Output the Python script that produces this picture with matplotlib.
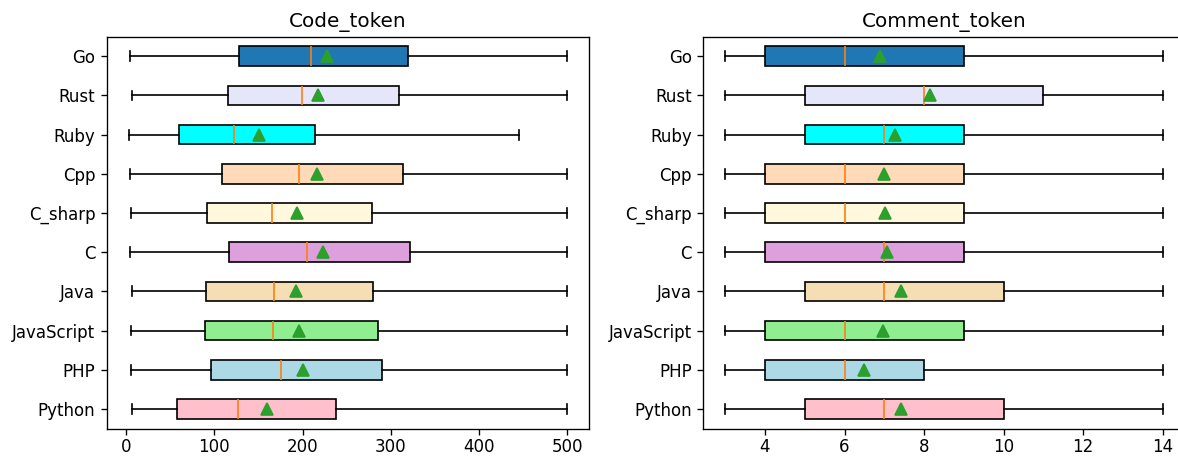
import matplotlib
matplotlib.use("Agg")
import matplotlib.pyplot as plt

languages = ["Python", "PHP", "JavaScript", "Java", "C", "C_sharp", "Cpp", "Ruby", "Rust", "Go"]
box_colors = ["pink", "lightblue", "lightgreen", "wheat", "plum", "cornsilk",
              "peachpuff", "cyan", "lavender", "#1f77b4"]

# Code_token statistics
code_whislo = [6, 5, 5, 6, 4, 5, 4, 3, 6, 4]
code_q1 = [58, 96, 89, 90, 116, 92, 109, 60, 115, 128]
code_med = [127, 176, 166, 168, 205, 165, 196, 122, 199, 209]
code_mean = [160, 201, 196, 193, 223, 194, 216, 151, 218, 228]
code_q3 = [238, 290, 286, 280, 322, 279, 314, 214, 309, 319]
code_whishi = [500, 500, 500, 500, 500, 500, 500, 445, 500, 500]

# Comment_token statistics
com_whislo = [3, 3, 3, 3, 3, 3, 3, 3, 3, 3]
com_q1 = [5, 4, 4, 5, 4, 4, 4, 5, 5, 4]
com_med = [7, 6, 6, 7, 7, 6, 6, 7, 8, 6]
com_mean = [7.41, 6.48, 6.97, 7.42, 7.07, 7.02, 7.0, 7.27, 8.15, 6.9]
com_q3 = [10, 8, 9, 10, 9, 9, 9, 9, 11, 9]
com_whishi = [14, 14, 14, 14, 14, 14, 14, 14, 14, 14]


def make_stats(lo, q1, med, mean, q3, hi):
    return [dict(whislo=lo[i], q1=q1[i], med=med[i], mean=mean[i], q3=q3[i],
                 whishi=hi[i], fliers=[], label=languages[i])
            for i in range(len(languages))]


fig = plt.figure(figsize=(1178 / 120, 456 / 120), dpi=120)
ax1 = fig.add_axes([107 / 1178, 1 - 428.5 / 456, (589 - 107) / 1178, (428.5 - 36.7) / 456])
ax2 = fig.add_axes([703.3 / 1178, 1 - 428.5 / 456, (1184.6 - 703.3) / 1178, (428.5 - 36.7) / 456])

panels = [
    (ax1, make_stats(code_whislo, code_q1, code_med, code_mean, code_q3, code_whishi), "Code_token"),
    (ax2, make_stats(com_whislo, com_q1, com_med, com_mean, com_q3, com_whishi), "Comment_token"),
]

meanprops = dict(marker="^", markerfacecolor="#2ca02c", markeredgecolor="#2ca02c",
                 markersize=7.2)

for ax, stats, title in panels:
    try:
        bp = ax.bxp(stats, orientation="horizontal", patch_artist=True,
                    showmeans=True, showfliers=False, meanprops=meanprops)
    except TypeError:
        bp = ax.bxp(stats, vert=False, patch_artist=True,
                    showmeans=True, showfliers=False, meanprops=meanprops)
    for patch, c in zip(bp["boxes"], box_colors):
        patch.set_facecolor(c)
    ax.tick_params(axis="x", pad=2.5)
    ax.set_title(title)

fig.savefig("out.png", dpi=120)
